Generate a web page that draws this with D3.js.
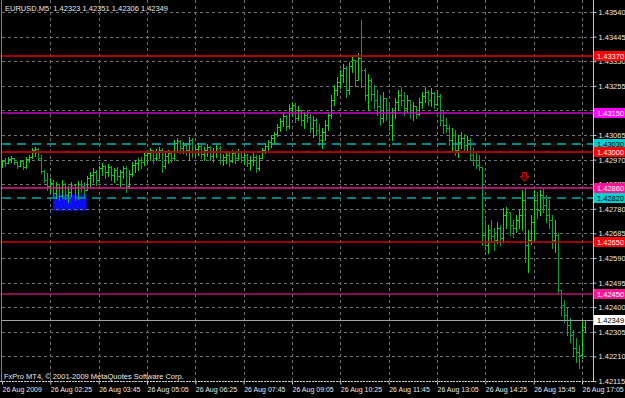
<!DOCTYPE html>
<html>
<head>
<meta charset="utf-8">
<script src="https://cdn.jsdelivr.net/npm/d3@7"></script>
<style>
body { margin: 0; background: #000; }
svg { display: block; font-family: "Liberation Sans", Arial, sans-serif; }
</style>
</head>
<body>
<div id="chart-div"></div>
<script>
// EURUSD M5, 26 Aug 2009, one bar every 5 minutes from 01:05
var symbol = "EURUSD,M5";
var copyright = "FxPro MT4, \u00a9 2001-2009 MetaQuotes Software Corp.";

var timeLabels = ["26 Aug 2009", "26 Aug 02:25", "26 Aug 03:45", "26 Aug 05:05", "26 Aug 06:25",
    "26 Aug 07:45", "26 Aug 09:05", "26 Aug 10:25", "26 Aug 11:45", "26 Aug 13:05",
    "26 Aug 14:25", "26 Aug 15:45", "26 Aug 17:05"];

var priceTicks = [1.43540, 1.43445, 1.43350, 1.43255, 1.43160, 1.43065, 1.42970, 1.42875,
    1.42780, 1.42685, 1.42590, 1.42495, 1.42400, 1.42305, 1.42210, 1.42115];

var opens = [
    1.42949,1.42965,1.42957,1.42972,1.42976,1.42961,1.42945,1.42965,1.42941,1.42972,
    1.42980,1.43007,1.43011,1.42976,1.42926,1.42891,1.42868,1.42880,1.42841,1.42860,
    1.42829,1.42876,1.42833,1.42845,1.42872,1.42826,1.42876,1.42868,1.42853,1.42899,
    1.42911,1.42922,1.42891,1.42938,1.42945,1.42922,1.42941,1.42911,1.42930,1.42907,
    1.42922,1.42938,1.42868,1.42914,1.42949,1.42957,1.42968,1.42961,1.42988,1.42995,
    1.43007,1.42976,1.42999,1.43007,1.42945,1.42984,1.42995,1.42976,1.43034,1.43042,
    1.43015,1.43026,1.43007,1.43046,1.42999,1.43011,1.43022,1.42992,1.43007,1.43019,
    1.42984,1.42999,1.43015,1.42968,1.42980,1.42988,1.42965,1.42995,1.42976,1.42999,
    1.42980,1.42988,1.42957,1.42968,1.42980,1.42938,1.42976,1.43007,1.43022,1.43038,
    1.43053,1.43069,1.43096,1.43119,1.43138,1.43100,1.43169,1.43181,1.43131,1.43161,
    1.43123,1.43142,1.43134,1.43092,1.43123,1.43084,1.43046,1.43076,1.43104,1.43142,
    1.43200,1.43239,1.43270,1.43297,1.43324,1.43239,1.43331,1.43354,1.43277,1.43362,
    1.43316,1.43219,1.43277,1.43223,1.43200,1.43177,1.43131,1.43208,1.43154,1.43104,
    1.43154,1.43192,1.43219,1.43200,1.43169,1.43200,1.43154,1.43177,1.43146,1.43192,
    1.43215,1.43231,1.43200,1.43227,1.43185,1.43215,1.43123,1.43104,1.43092,1.43046,
    1.43065,1.43007,1.43038,1.43053,1.43026,1.43046,1.42988,1.42968,1.42949,1.42941,
    1.42679,1.42640,1.42698,1.42675,1.42660,1.42706,1.42667,1.42756,1.42768,1.42718,
    1.42706,1.42737,1.42756,1.42814,1.42640,1.42660,1.42729,1.42814,1.42775,1.42833,
    1.42795,1.42756,1.42737,1.42660,1.42679,1.42467,1.42409,1.42370,1.42332,1.42293,
    1.42243,1.42227,1.42216,1.42323];

var highs = [
    1.42968,1.42976,1.42980,1.42984,1.42976,1.42965,1.42968,1.42968,1.42980,1.42988,
    1.43015,1.43019,1.43015,1.42988,1.42930,1.42918,1.42899,1.42891,1.42884,1.42876,
    1.42891,1.42880,1.42868,1.42884,1.42872,1.42887,1.42891,1.42884,1.42907,1.42922,
    1.42938,1.42930,1.42945,1.42957,1.42949,1.42953,1.42945,1.42938,1.42941,1.42930,
    1.42945,1.42945,1.42930,1.42961,1.42968,1.42976,1.42980,1.42999,1.43007,1.43015,
    1.43007,1.43011,1.43019,1.43015,1.42995,1.43007,1.43003,1.43046,1.43053,1.43046,
    1.43038,1.43034,1.43057,1.43053,1.43022,1.43034,1.43026,1.43019,1.43030,1.43022,
    1.43015,1.43026,1.43022,1.42992,1.43003,1.42995,1.43007,1.42999,1.43011,1.43003,
    1.42995,1.42992,1.42984,1.42999,1.42988,1.42988,1.43015,1.43034,1.43046,1.43065,
    1.43076,1.43107,1.43131,1.43150,1.43142,1.43185,1.43192,1.43188,1.43177,1.43161,
    1.43154,1.43161,1.43146,1.43138,1.43131,1.43107,1.43092,1.43123,1.43154,1.43219,
    1.43258,1.43289,1.43316,1.43339,1.43331,1.43347,1.43374,1.43354,1.43381,1.43509,
    1.43324,1.43300,1.43285,1.43258,1.43239,1.43219,1.43231,1.43208,1.43192,1.43169,
    1.43208,1.43239,1.43250,1.43231,1.43219,1.43200,1.43192,1.43177,1.43208,1.43231,
    1.43250,1.43239,1.43246,1.43231,1.43239,1.43223,1.43161,1.43131,1.43104,1.43092,
    1.43084,1.43065,1.43076,1.43069,1.43061,1.43053,1.43015,1.42999,1.42988,1.42941,
    1.42737,1.42718,1.42737,1.42706,1.42729,1.42718,1.42783,1.42787,1.42768,1.42737,
    1.42756,1.42775,1.42853,1.42860,1.42698,1.42756,1.42853,1.42845,1.42853,1.42860,
    1.42833,1.42814,1.42756,1.42737,1.42687,1.42467,1.42428,1.42397,1.42359,1.42312,
    1.42281,1.42254,1.42351,1.42351];

var lows = [
    1.42941,1.42945,1.42957,1.42961,1.42953,1.42938,1.42945,1.42934,1.42938,1.42961,
    1.42976,1.42984,1.42968,1.42918,1.42884,1.42853,1.42845,1.42829,1.42822,1.42814,
    1.42822,1.42818,1.42806,1.42829,1.42814,1.42818,1.42845,1.42826,1.42853,1.42868,
    1.42884,1.42872,1.42891,1.42911,1.42899,1.42907,1.42891,1.42884,1.42891,1.42868,
    1.42899,1.42845,1.42860,1.42907,1.42922,1.42930,1.42938,1.42949,1.42961,1.42968,
    1.42957,1.42968,1.42976,1.42922,1.42938,1.42957,1.42961,1.42968,1.43007,1.42995,
    1.42995,1.42988,1.42968,1.42980,1.42984,1.42988,1.42976,1.42968,1.42984,1.42968,
    1.42961,1.42980,1.42953,1.42949,1.42957,1.42945,1.42961,1.42957,1.42968,1.42961,
    1.42953,1.42945,1.42930,1.42949,1.42922,1.42930,1.42976,1.42995,1.43007,1.43019,
    1.43030,1.43061,1.43080,1.43100,1.43084,1.43092,1.43138,1.43115,1.43123,1.43104,
    1.43092,1.43115,1.43076,1.43057,1.43065,1.43026,1.43015,1.43046,1.43084,1.43131,
    1.43181,1.43219,1.43246,1.43270,1.43212,1.43223,1.43308,1.43254,1.43277,1.43250,
    1.43200,1.43161,1.43200,1.43169,1.43142,1.43104,1.43115,1.43123,1.43084,1.43046,
    1.43131,1.43161,1.43181,1.43142,1.43154,1.43131,1.43123,1.43131,1.43142,1.43169,
    1.43192,1.43181,1.43177,1.43169,1.43181,1.43104,1.43073,1.43076,1.43026,1.43007,
    1.42988,1.42980,1.43015,1.43007,1.42999,1.42968,1.42949,1.42938,1.42930,1.42640,
    1.42621,1.42609,1.42660,1.42621,1.42648,1.42640,1.42652,1.42706,1.42679,1.42671,
    1.42690,1.42706,1.42698,1.42575,1.42536,1.42644,1.42660,1.42745,1.42756,1.42768,
    1.42729,1.42706,1.42629,1.42613,1.42455,1.42370,1.42343,1.42293,1.42266,1.42216,
    1.42189,1.42166,1.42204,1.42306];

var closes = [
    1.42965,1.42957,1.42972,1.42976,1.42961,1.42945,1.42965,1.42941,1.42972,1.42980,
    1.43007,1.43011,1.42976,1.42926,1.42891,1.42868,1.42880,1.42841,1.42860,1.42829,
    1.42876,1.42833,1.42845,1.42872,1.42826,1.42876,1.42868,1.42853,1.42899,1.42911,
    1.42922,1.42891,1.42938,1.42945,1.42922,1.42941,1.42911,1.42930,1.42907,1.42922,
    1.42938,1.42868,1.42914,1.42949,1.42957,1.42968,1.42961,1.42988,1.42995,1.43007,
    1.42976,1.42999,1.43007,1.42945,1.42984,1.42995,1.42976,1.43034,1.43042,1.43015,
    1.43026,1.43007,1.43046,1.42999,1.43011,1.43022,1.42992,1.43007,1.43019,1.42984,
    1.42999,1.43015,1.42968,1.42980,1.42988,1.42965,1.42995,1.42976,1.42999,1.42980,
    1.42988,1.42957,1.42968,1.42980,1.42938,1.42976,1.43007,1.43022,1.43038,1.43053,
    1.43069,1.43096,1.43119,1.43138,1.43100,1.43169,1.43181,1.43131,1.43161,1.43123,
    1.43142,1.43134,1.43092,1.43123,1.43084,1.43046,1.43076,1.43104,1.43142,1.43200,
    1.43239,1.43270,1.43297,1.43324,1.43239,1.43331,1.43354,1.43277,1.43362,1.43316,
    1.43219,1.43277,1.43223,1.43200,1.43177,1.43131,1.43208,1.43154,1.43104,1.43154,
    1.43192,1.43219,1.43200,1.43169,1.43200,1.43154,1.43177,1.43146,1.43192,1.43215,
    1.43231,1.43200,1.43227,1.43185,1.43215,1.43123,1.43104,1.43092,1.43046,1.43065,
    1.43007,1.43038,1.43053,1.43026,1.43046,1.42988,1.42968,1.42949,1.42941,1.42679,
    1.42640,1.42698,1.42675,1.42660,1.42706,1.42667,1.42756,1.42768,1.42718,1.42706,
    1.42737,1.42756,1.42814,1.42640,1.42660,1.42729,1.42814,1.42775,1.42833,1.42795,
    1.42756,1.42737,1.42660,1.42679,1.42467,1.42409,1.42370,1.42332,1.42293,1.42243,
    1.42227,1.42216,1.42312,1.42349];

// horizontal line objects
var levelPrices = [1.43370, 1.43150, 1.43030, 1.43000, 1.42860, 1.42820, 1.42650, 1.42450];
var levelKinds  = ["red", "magenta", "cyan", "red", "pink", "teal", "red2", "crimson"];

// rectangle object (bar index from/to, price top/bottom) and the sell arrow
var boxBars = [17, 28];
var boxPrices = [1.42835, 1.42773];
var arrowBar = 173;
var arrowPrice = 1.42905;

var width = 625, height = 398;
var right = 593, bottom = 381;

var svg = d3.select('#chart-div')
            .append('svg')
            .attr("width", width)
            .attr("height", height);

svg.append("rect").attr("width", width).attr("height", height).attr("fill", "#000");

var x = d3.scaleLinear().domain([0, 192]).range([2, 582]);
var y = d3.scaleLinear().domain([1.42115, 1.43540]).range([bottom, 12]);

function px(v) { return Math.round(v) + 0.5; }

var kindStyle = {
    red:     {line: "#a80000", w: 2,   dash: null,  box: "#ff0000", txt: "#fff"},
    red2:    {line: "#d00000", w: 1.5, dash: null,  box: "#ff0000", txt: "#fff"},
    magenta: {line: "#c800c8", w: 1.5, dash: null,  box: "#ff00ff", txt: "#fff"},
    pink:    {line: "#e8188c", w: 1.5, dash: null,  box: "#ff1493", txt: "#fff"},
    crimson: {line: "#b8106c", w: 1.5, dash: null,  box: "#ff1493", txt: "#fff"},
    cyan:    {line: "#00b8bc", w: 1.5, dash: "9,6", box: "#00ced1", txt: "#000"},
    teal:    {line: "#00807c", w: 2,   dash: "9,6", box: "#00ced1", txt: "#000"}
};

// rectangle (background object)
svg.append("rect")
    .attr("x", x(boxBars[0]))
    .attr("y", y(boxPrices[0]))
    .attr("width", x(boxBars[1]) - x(boxBars[0]))
    .attr("height", y(boxPrices[1]) - y(boxPrices[0]))
    .attr("fill", "#0c10f0");

// grid
var grid = svg.append("g").attr("stroke", "#70707c").attr("stroke-dasharray", "3,3");
grid.selectAll(".hg").data(priceTicks).enter().append("line")
    .attr("x1", 2).attr("x2", right)
    .attr("y1", function(d) { return px(y(d)); })
    .attr("y2", function(d) { return px(y(d)); });
grid.selectAll(".vg").data(d3.range(16, 193, 16)).enter().append("line")
    .attr("x1", function(d) { return px(x(d)); })
    .attr("x2", function(d) { return px(x(d)); })
    .attr("y1", 0).attr("y2", bottom);
svg.append("line").attr("x1", 1.5).attr("x2", 1.5).attr("y1", 0).attr("y2", bottom)
    .attr("stroke", "#808080");

// bars
var bars = svg.append("g").attr("stroke-width", 1);
closes.forEach(function(c, i) {
    var xc = px(x(i));
    var col = c >= opens[i] ? "#1ad21a" : "#12a032";
    var g = bars.append("g").attr("stroke", col);
    g.append("line").attr("x1", xc).attr("x2", xc)
        .attr("y1", Math.round(y(highs[i]))).attr("y2", Math.round(y(lows[i])) + 1);
    g.append("line").attr("x1", xc - 1.5).attr("x2", xc)
        .attr("y1", px(y(opens[i]))).attr("y2", px(y(opens[i])));
    g.append("line").attr("x1", xc).attr("x2", xc + 1.5)
        .attr("y1", px(y(c))).attr("y2", px(y(c)));
});

// horizontal lines
svg.selectAll(".level").data(levelPrices).enter().append("line")
    .attr("class", "level")
    .attr("x1", 2).attr("x2", right)
    .attr("y1", function(d) { return Math.round(y(d)); })
    .attr("y2", function(d) { return Math.round(y(d)); })
    .attr("stroke", function(d, i) { return kindStyle[levelKinds[i]].line; })
    .attr("stroke-width", function(d, i) { return kindStyle[levelKinds[i]].w; })
    .attr("stroke-dasharray", function(d, i) { return kindStyle[levelKinds[i]].dash; });

// bid line
var last = closes.length - 1;
svg.append("line")
    .attr("x1", 2).attr("x2", right)
    .attr("y1", px(y(closes[last]))).attr("y2", px(y(closes[last])))
    .attr("stroke", "#a0a0a8");

// sell arrow
var ax = x(arrowBar), ay = y(arrowPrice);
svg.append("path")
    .attr("d", "M" + (ax - 2) + "," + (ay - 4) + "H" + (ax + 2) + "V" + ay + "H" + (ax + 4.5) +
               "L" + ax + "," + (ay + 5) + "L" + (ax - 4.5) + "," + ay + "H" + (ax - 2) + "Z")
    .attr("fill", "#5a0000")
    .attr("stroke", "#d01010")
    .attr("stroke-width", 1);

// axes frame
svg.append("line").attr("x1", px(right)).attr("x2", px(right)).attr("y1", 0).attr("y2", bottom + 1)
    .attr("stroke", "#c8c8c8");
svg.append("line").attr("x1", 0).attr("x2", px(right)).attr("y1", px(bottom)).attr("y2", px(bottom))
    .attr("stroke", "#c8c8c8").attr("stroke-dasharray", "2,1");

var yAxis = d3.axisRight(y).tickValues(priceTicks).tickSize(3).tickPadding(2)
    .tickFormat(d3.format(".5f"));
var ya = svg.append("g")
    .attr("transform", "translate(" + px(right) + ",0)")
    .call(yAxis);
ya.select(".domain").remove();
ya.selectAll(".tick line").attr("stroke", "#c8c8c8");
ya.selectAll(".tick text").attr("fill", "#e8e8e8").style("font-size", "7.5px");

var xAxis = d3.axisBottom(x).tickValues(d3.range(0, 193, 16)).tickSize(3)
    .tickFormat(function(d, i) { return timeLabels[i]; });
var xa = svg.append("g")
    .attr("transform", "translate(0," + px(bottom) + ")")
    .call(xAxis);
xa.select(".domain").remove();
xa.selectAll(".tick line").attr("stroke", "#c8c8c8");
xa.selectAll(".tick text").attr("fill", "#e8e8e8").style("font-size", "7px")
    .attr("text-anchor", "start").attr("x", 0).attr("y", 10).attr("dy", 0);

// price labels of the line objects and the bid
var labels = levelPrices.map(function(p, i) {
    return {p: p, box: kindStyle[levelKinds[i]].box, txt: kindStyle[levelKinds[i]].txt};
});
labels.push({p: closes[last], box: "#ffffff", txt: "#000"});
var lab = svg.selectAll(".plabel").data(labels).enter().append("g")
    .attr("transform", function(d) { return "translate(594," + Math.round(y(d.p)) + ")"; });
lab.append("rect").attr("x", 0).attr("y", -5).attr("width", 31).attr("height", 10)
    .attr("fill", function(d) { return d.box; });
lab.append("text").attr("x", 3).attr("y", 2.8)
    .style("font-size", "7.5px")
    .attr("fill", function(d) { return d.txt; })
    .text(function(d) { return d3.format(".5f")(d.p); });

// header and copyright
var f5 = d3.format(".5f");
svg.append("text").attr("x", 5).attr("y", 10.5)
    .style("font-size", "7.5px").style("white-space", "pre")
    .attr("fill", "#e8e8e8")
    .text(symbol + "  " + f5(opens[last]) + " " + f5(highs[last]) + " " + f5(lows[last]) + " " + f5(closes[last]));
svg.append("text").attr("x", 4).attr("y", 379)
    .style("font-size", "7.5px")
    .attr("fill", "#e8e8e8")
    .text(copyright);
</script>
</body>
</html>
